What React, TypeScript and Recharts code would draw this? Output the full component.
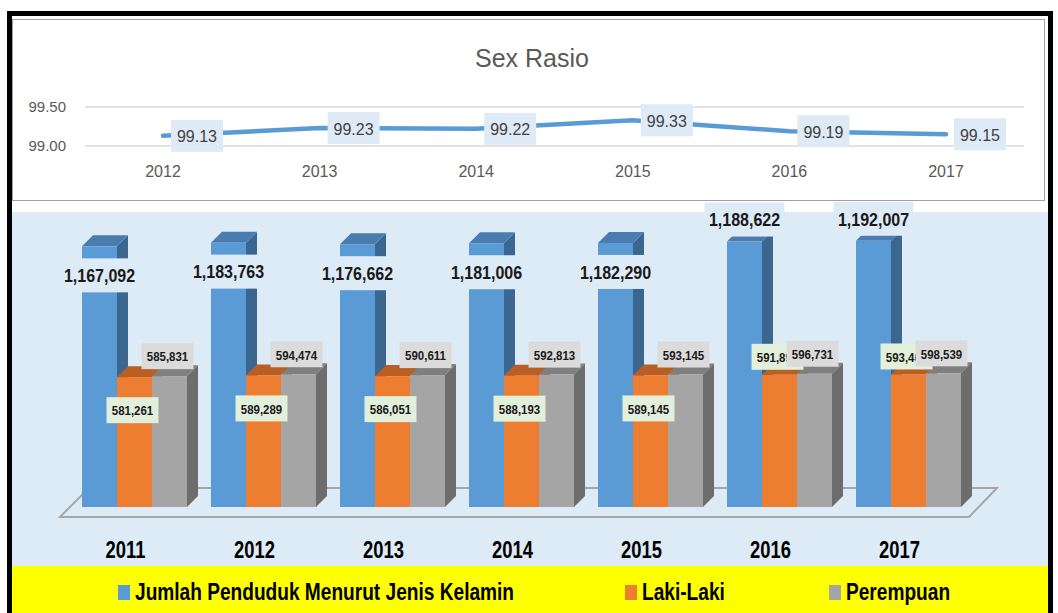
import React from "react";
import {
  ComposedChart,
  Line,
  BarChart,
  Bar,
  XAxis,
  YAxis,
  CartesianGrid,
  LabelList,
} from "recharts";

// population by sex, 2011-2017
const years = ["2011", "2012", "2013", "2014", "2015", "2016", "2017"];
const totalPop = [1167092, 1183763, 1176662, 1181006, 1182290, 1188622, 1192007];
const malePop = [581261, 589289, 586051, 588193, 589145, 591891, 593468];
const femalePop = [585831, 594474, 590611, 592813, 593145, 596731, 598539];

// sex ratio, 2012-2017
const ratioYears = ["2012", "2013", "2014", "2015", "2016", "2017"];
const sexRatio = [99.13, 99.23, 99.22, 99.33, 99.19, 99.15];
const ratioTicks = [99, 99.5];

// years where the labels sit above the bars instead of inside them
const labelsAbove = ["2016", "2017"];

const popData = years.map((year, i) => ({
  year,
  total: totalPop[i],
  male: malePop[i],
  female: femalePop[i],
}));
const ratioData = ratioYears.map((year, i) => ({ year, ratio: sexRatio[i] }));

const SANS = '"Liberation Sans", Arial, sans-serif';
const PANEL_BG = "#DDEBF7";
const DEPTH = 11;

const fmt = (v: number) => Number(v).toLocaleString("en-US");

// lower chart geometry
const BAR_W = 1036;
const BAR_H = 367;
const BAR_M = { top: 40, right: 75, left: 58, bottom: 0 };
const X_AXIS_H = 59;

// squeezed text, to get close to the narrow look of the original font
function SText(props: any) {
  const { x, y, sx = 0.85, size, weight = "bold", fill = "#000", anchor = "middle", children } = props;
  return (
    <text
      transform={`translate(${x},${y}) scale(${sx},1)`}
      textAnchor={anchor}
      dominantBaseline="central"
      fontFamily={SANS}
      fontSize={size}
      fontWeight={weight}
      fill={fill}
    >
      {children}
    </text>
  );
}

function Box3D(props: any) {
  const { x, y, width, height, front, top, side } = props;
  if (width == null || height == null) return null;
  const d = DEPTH;
  return (
    <g>
      <polygon
        points={`${x + width},${y} ${x + width + d},${y - d} ${x + width + d},${y + height - d} ${x + width},${y + height}`}
        fill={side}
      />
      <polygon
        points={`${x},${y} ${x + d},${y - d} ${x + width + d},${y - d} ${x + width},${y}`}
        fill={top}
      />
      <rect x={x} y={y} width={width} height={height} fill={front} />
    </g>
  );
}

function labelBox(cx: number, cy: number, w: number, h: number, fill: string, text: string, size: number, sx: number) {
  return (
    <g>
      <rect x={cx - w / 2} y={cy - h / 2} width={w} height={h} fill={fill} />
      <SText x={cx} y={cy + 1} size={size} sx={sx} fill="#1a1a1a">
        {text}
      </SText>
    </g>
  );
}

const TotalLabel = (p: any) => {
  const above = labelsAbove.includes(years[p.index]);
  const cx = p.x + p.width / 2;
  const cy = above ? p.y - 22 : p.y + 29;
  return labelBox(cx, cy, 80, 34, PANEL_BG, fmt(p.value), 18, 0.89);
};

const MaleLabel = (p: any) => {
  const above = labelsAbove.includes(years[p.index]);
  const cx = p.x + p.width / 2 - 2;
  const cy = above ? p.y - 18 : p.y + 33;
  return labelBox(cx, cy, 52, 26, "#E2EFDA", fmt(p.value), 13.5, 0.85);
};

const FemaleLabel = (p: any) => {
  const cx = p.x + p.width / 2 - 2;
  const cy = p.y - 20;
  return labelBox(cx, cy, 52, 26, "#DBDBDB", fmt(p.value), 13.5, 0.85);
};

const RatioLabel = (p: any) => {
  const { x, y, value } = p;
  return (
    <g>
      <rect x={x + 8} y={y - 16} width={52} height={32} fill="#DEEBF7" />
      <text
        x={x + 34}
        y={y + 1}
        textAnchor="middle"
        dominantBaseline="central"
        fontFamily={SANS}
        fontSize={16}
        fill="#404040"
      >
        {Number(value).toFixed(2)}
      </text>
    </g>
  );
};

const YearTick = (p: any) => (
  <SText x={p.x - 9} y={p.y + 35} size={23} sx={0.8}>
    {p.payload.value}
  </SText>
);

function Floor() {
  const pl = BAR_M.left;
  const pr = BAR_W - BAR_M.right;
  const pb = BAR_H - BAR_M.bottom - X_AXIS_H - (212 - 199);
  const pts = [
    [pl - 10, pb + 10],
    [pl + 19, pb - 19],
    [pr + 24, pb - 19],
    [pr - 4, pb + 10],
  ]
    .map((q) => q.join(","))
    .join(" ");
  return (
    <svg width={BAR_W} height={354} style={{ position: "absolute", left: 12, top: 212 }}>
      <rect width={BAR_W} height={354} fill={PANEL_BG} />
      <polygon points={pts} fill="none" stroke="#A6A6A6" strokeWidth={2} />
    </svg>
  );
}

const legendItems = [
  { label: "Jumlah Penduduk Menurut Jenis Kelamin", color: "#5B9BD5", left: 106 },
  { label: "Laki-Laki", color: "#ED7D31", left: 613 },
  { label: "Perempuan", color: "#A5A5A5", left: 817 },
];

function Legend() {
  return (
    <svg
      width={1036}
      height={50}
      style={{ position: "absolute", left: 12, top: 566, background: "#FFFF00" }}
    >
      {legendItems.map((it) => (
        <g key={it.label}>
          <rect x={it.left} y={19} width={12} height={15} fill={it.color} />
          <SText x={it.left + 17} y={26} size={24.5} sx={0.78} anchor="start">
            {it.label}
          </SText>
        </g>
      ))}
    </svg>
  );
}

export default function App() {
  return (
    <div
      style={{
        position: "absolute",
        left: 0,
        top: 0,
        width: 1058,
        height: 613,
        overflow: "hidden",
        background: "#fff",
      }}
    >
      <div
        style={{
          position: "absolute",
          left: 12,
          top: 19,
          width: 1033,
          height: 182,
          border: "1px solid #A0A0A0",
          boxSizing: "border-box",
          background: "#fff",
        }}
      />
      <div
        style={{
          position: "absolute",
          left: 0,
          width: 1064,
          top: 44,
          textAlign: "center",
          fontFamily: SANS,
          fontSize: 25,
          color: "#595959",
        }}
      >
        Sex Rasio
      </div>
      <div style={{ position: "absolute", left: 13, top: 20 }}>
        <ComposedChart
          width={1031}
          height={180}
          data={ratioData}
          margin={{ top: 87, right: 20, bottom: 0, left: 0 }}
        >
          <CartesianGrid vertical={false} stroke="#D9D9D9" strokeWidth={1.5} />
          <XAxis
            dataKey="year"
            height={54}
            padding={{ left: 78, right: 78 }}
            axisLine={false}
            tickLine={false}
            tickSize={0}
            tickMargin={20}
            tick={{ fontFamily: SANS, fontSize: 16, fill: "#595959" }}
          />
          <YAxis
            domain={[99, 99.5]}
            ticks={ratioTicks}
            width={72}
            axisLine={false}
            tickLine={false}
            tickSize={0}
            tickMargin={19}
            tickFormatter={(v: number) => v.toFixed(2)}
            tick={{ fontFamily: SANS, fontSize: 15, fill: "#595959" }}
          />
          <Line
            dataKey="ratio"
            stroke="#5B9BD5"
            strokeWidth={4.5}
            strokeLinecap="round"
            dot={false}
            isAnimationActive={false}
          >
            <LabelList dataKey="ratio" content={RatioLabel} />
          </Line>
        </ComposedChart>
      </div>

      <Floor />
      <div style={{ position: "absolute", left: 12, top: 199 }}>
        <BarChart
          width={BAR_W}
          height={BAR_H}
          data={popData}
          margin={BAR_M}
          barCategoryGap={12}
          barGap={0}
        >
          <XAxis
            dataKey="year"
            height={X_AXIS_H}
            axisLine={false}
            tickLine={false}
            tick={YearTick}
            interval={0}
          />
          <YAxis hide domain={[0, 1200000]} />
          <Bar
            dataKey="total"
            barSize={35}
            fill="#5B9BD5"
            isAnimationActive={false}
            shape={(p: any) => <Box3D {...p} front="#5B9BD5" top="#4A7CB0" side="#3A6690" />}
          >
            <LabelList dataKey="total" content={TotalLabel} />
          </Bar>
          <Bar
            dataKey="male"
            barSize={35}
            fill="#ED7D31"
            isAnimationActive={false}
            shape={(p: any) => <Box3D {...p} front="#ED7D31" top="#B95F24" side="#A9561F" />}
          >
            <LabelList dataKey="male" content={MaleLabel} />
          </Bar>
          <Bar
            dataKey="female"
            barSize={35}
            fill="#A5A5A5"
            isAnimationActive={false}
            shape={(p: any) => <Box3D {...p} front="#A5A5A5" top="#7F7F7F" side="#6D6D6D" />}
          >
            <LabelList dataKey="female" content={FemaleLabel} />
          </Bar>
        </BarChart>
      </div>

      <Legend />

      <div
        style={{
          position: "absolute",
          left: 7,
          top: 11,
          width: 1046,
          height: 640,
          border: "5px solid #000",
          boxSizing: "border-box",
          pointerEvents: "none",
        }}
      />
    </div>
  );
}
